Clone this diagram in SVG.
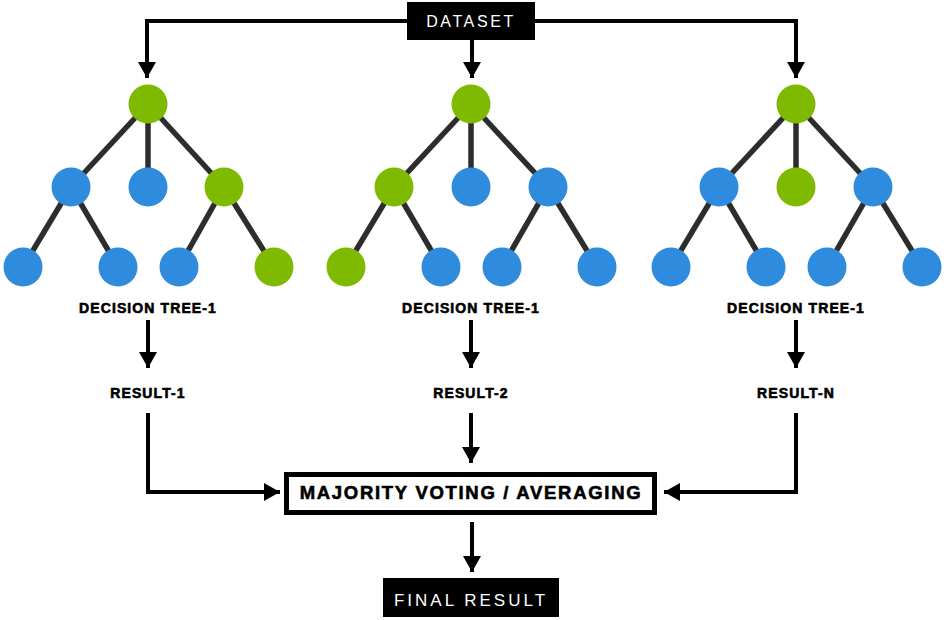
<svg xmlns="http://www.w3.org/2000/svg" width="944" height="620" viewBox="0 0 944 620">
<style>
.g{fill:#7dba00}
.b{fill:#2e8bde}
.e{stroke:#2d2d2d;stroke-width:5.5}
.c{fill:none;stroke:#000;stroke-width:4}
.lbl{font-family:"Liberation Sans",Arial,sans-serif;font-weight:bold;font-size:14px;fill:#000;stroke:#000;stroke-width:0.6;text-anchor:middle;letter-spacing:1.1px}
.wt{font-family:"Liberation Sans",Arial,sans-serif;fill:#fff;text-anchor:middle}
</style>
<defs>
<marker id="ah" markerUnits="userSpaceOnUse" markerWidth="18" markerHeight="18" refX="16" refY="9" orient="auto" viewBox="0 0 18 18">
<path d="M0,0 L16,9 L0,18 Z" fill="#000"/>
</marker>
</defs>
<rect width="944" height="620" fill="#fff"/>

<g id="connectors">
<path class="c" d="M407,21 H147 V78" marker-end="url(#ah)"/>
<path class="c" d="M535,21 H796 V78" marker-end="url(#ah)"/>
<path class="c" d="M472,40 V78" marker-end="url(#ah)"/>
<path class="c" d="M148,320 V368" marker-end="url(#ah)"/>
<path class="c" d="M471,320 V368" marker-end="url(#ah)"/>
<path class="c" d="M796,320 V368" marker-end="url(#ah)"/>
<path class="c" d="M148,413 V492 H280" marker-end="url(#ah)"/>
<path class="c" d="M471,413 V463" marker-end="url(#ah)"/>
<path class="c" d="M796,413 V492 H664" marker-end="url(#ah)"/>
<path class="c" d="M472,522 V572" marker-end="url(#ah)"/>
</g>

<g id="dataset">
<rect x="407" y="2" width="128" height="38" fill="#000"/>
<text class="wt" x="471" y="27" font-size="16" letter-spacing="2.6">DATASET</text>
</g>

<g id="tree1">
<g class="e">
<line x1="148" y1="104" x2="71" y2="187"/>
<line x1="148" y1="104" x2="148" y2="187"/>
<line x1="148" y1="104" x2="224" y2="187"/>
<line x1="71" y1="187" x2="23" y2="267"/>
<line x1="71" y1="187" x2="118" y2="267"/>
<line x1="224" y1="187" x2="179" y2="267"/>
<line x1="224" y1="187" x2="274" y2="267"/>
</g>
<circle class="g" cx="148" cy="104" r="19.5"/>
<circle class="b" cx="71" cy="187" r="19.5"/>
<circle class="b" cx="148" cy="187" r="19.5"/>
<circle class="g" cx="224" cy="187" r="19.5"/>
<circle class="b" cx="23" cy="267" r="19.5"/>
<circle class="b" cx="118" cy="267" r="19.5"/>
<circle class="b" cx="179" cy="267" r="19.5"/>
<circle class="g" cx="274" cy="267" r="19.5"/>
<text class="lbl" x="148" y="313">DECISION TREE-1</text>
</g>

<g id="tree2">
<g class="e">
<line x1="471" y1="104" x2="394" y2="187"/>
<line x1="471" y1="104" x2="471" y2="187"/>
<line x1="471" y1="104" x2="548" y2="187"/>
<line x1="394" y1="187" x2="346" y2="267"/>
<line x1="394" y1="187" x2="441" y2="267"/>
<line x1="548" y1="187" x2="502" y2="267"/>
<line x1="548" y1="187" x2="597" y2="267"/>
</g>
<circle class="g" cx="471" cy="104" r="19.5"/>
<circle class="g" cx="394" cy="187" r="19.5"/>
<circle class="b" cx="471" cy="187" r="19.5"/>
<circle class="b" cx="548" cy="187" r="19.5"/>
<circle class="g" cx="346" cy="267" r="19.5"/>
<circle class="b" cx="441" cy="267" r="19.5"/>
<circle class="b" cx="502" cy="267" r="19.5"/>
<circle class="b" cx="597" cy="267" r="19.5"/>
<text class="lbl" x="471" y="313">DECISION TREE-1</text>
</g>

<g id="tree3">
<g class="e">
<line x1="796" y1="104" x2="719" y2="187"/>
<line x1="796" y1="104" x2="796" y2="187"/>
<line x1="796" y1="104" x2="873" y2="187"/>
<line x1="719" y1="187" x2="671" y2="267"/>
<line x1="719" y1="187" x2="766" y2="267"/>
<line x1="873" y1="187" x2="827" y2="267"/>
<line x1="873" y1="187" x2="922" y2="267"/>
</g>
<circle class="g" cx="796" cy="104" r="19.5"/>
<circle class="b" cx="719" cy="187" r="19.5"/>
<circle class="g" cx="796" cy="187" r="19.5"/>
<circle class="b" cx="873" cy="187" r="19.5"/>
<circle class="b" cx="671" cy="267" r="19.5"/>
<circle class="b" cx="766" cy="267" r="19.5"/>
<circle class="b" cx="827" cy="267" r="19.5"/>
<circle class="b" cx="922" cy="267" r="19.5"/>
<text class="lbl" x="796" y="313">DECISION TREE-1</text>
</g>

<g id="result1"><text class="lbl" x="148" y="398">RESULT-1</text></g>
<g id="result2"><text class="lbl" x="471" y="398">RESULT-2</text></g>
<g id="resultN"><text class="lbl" x="796" y="398">RESULT-N</text></g>

<g id="majority">
<rect x="286.5" y="474.5" width="368" height="38" fill="#fff" stroke="#000" stroke-width="5"/>
<text x="471" y="499" font-family="'Liberation Sans',Arial,sans-serif" font-weight="bold" font-size="18.5" stroke="#000" stroke-width="0.6" text-anchor="middle" letter-spacing="1.7">MAJORITY VOTING / AVERAGING</text>
</g>

<g id="final">
<rect x="383" y="578" width="176" height="39" fill="#000"/>
<text class="wt" x="471" y="605.5" font-size="17" letter-spacing="3">FINAL RESULT</text>
</g>
</svg>
